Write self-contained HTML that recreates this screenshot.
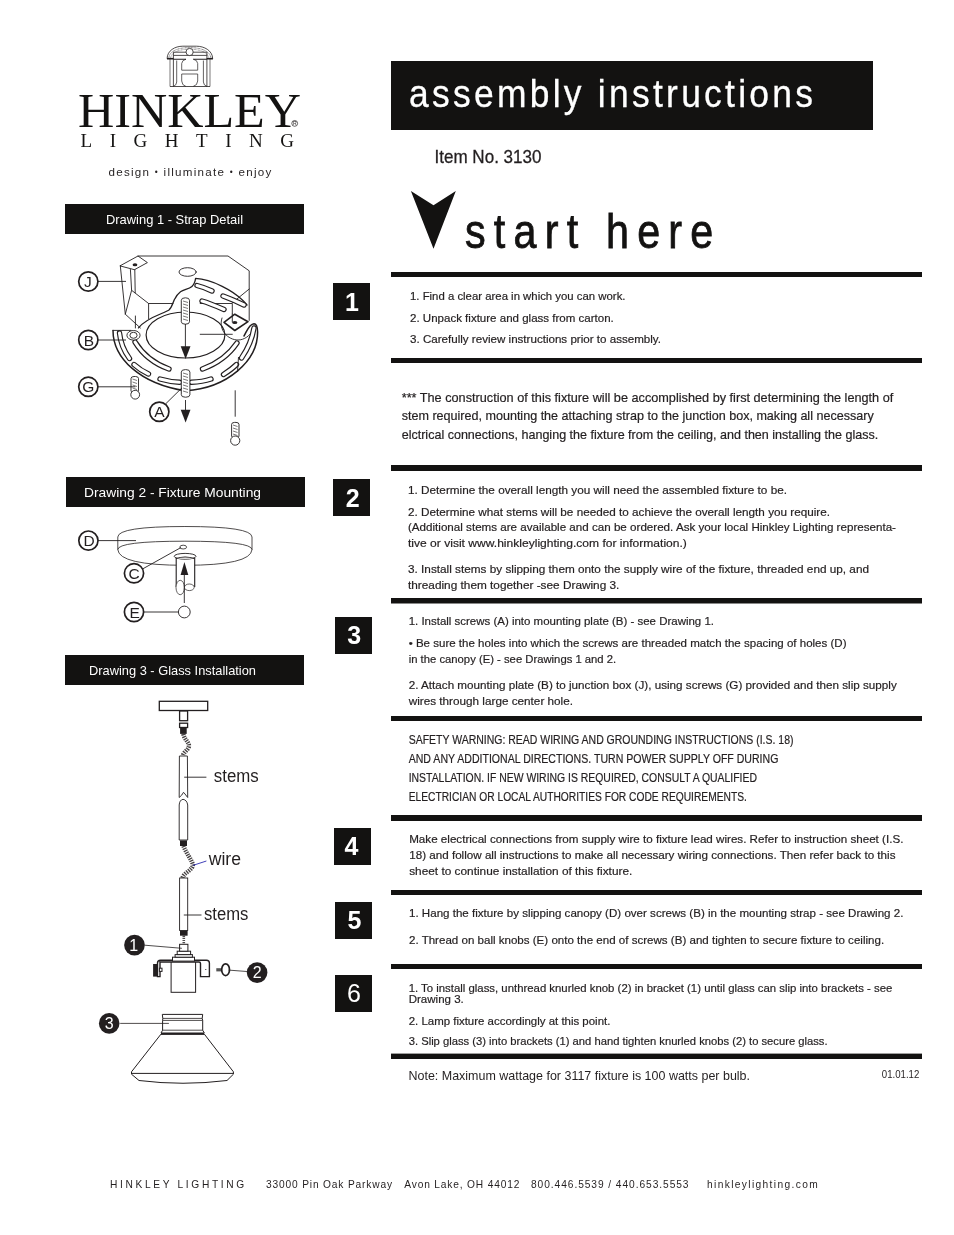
<!DOCTYPE html>
<html><head><meta charset="utf-8"><title>Hinkley Lighting - Assembly Instructions</title>
<style>
html,body{margin:0;padding:0;background:#fff;}
body{width:954px;height:1235px;overflow:hidden;position:relative;font-family:"Liberation Sans", sans-serif;}
svg{position:absolute;left:0;top:0;display:block;will-change:transform;}
text{font-family:"Liberation Sans", sans-serif;}
</style></head><body>
<svg width="954" height="1235" viewBox="0 0 954 1235">
<rect x="391" y="61" width="482" height="69" fill="#131211"/>
<g transform="translate(409 107) scale(0.92 1)"><text x="0" y="0" font-size="38.5" fill="#fff" stroke="#fff" stroke-width="0.3" textLength="439.13" lengthAdjust="spacing">assembly instructions</text></g>
<text x="434.5" y="163" font-size="19" fill="#231f20" stroke="#231f20" stroke-width="0.3" textLength="107.0" lengthAdjust="spacingAndGlyphs" >Item No. 3130</text>
<path d="M410.9 190.9 L433.5 205.2 L455.8 190.9 L433.5 248.8 Z" fill="#131211"/>
<g transform="translate(465 248.2) scale(0.86 1)"><text x="0" y="0" font-size="48" fill="#131211" stroke="#131211" stroke-width="0.8" textLength="288.72" lengthAdjust="spacing">start here</text></g>
<rect x="65" y="204" width="239" height="30" fill="#131211"/>
<text x="106" y="224" font-size="13" fill="#fff" textLength="137" lengthAdjust="spacingAndGlyphs" >Drawing 1 - Strap Detail</text>
<rect x="66" y="477" width="239" height="30" fill="#131211"/>
<text x="84" y="497" font-size="13" fill="#fff" textLength="177" lengthAdjust="spacingAndGlyphs" >Drawing 2 - Fixture Mounting</text>
<rect x="65" y="655" width="239" height="30" fill="#131211"/>
<text x="89" y="675" font-size="13" fill="#fff" textLength="167" lengthAdjust="spacingAndGlyphs" >Drawing 3 - Glass Installation</text>
<rect x="391" y="272" width="531" height="5" fill="#131211"/>
<rect x="391" y="358" width="531" height="5" fill="#131211"/>
<rect x="391" y="465" width="531" height="6" fill="#131211"/>
<rect x="391" y="598" width="531" height="5.5" fill="#131211"/>
<rect x="391" y="716" width="531" height="5" fill="#131211"/>
<rect x="391" y="815" width="531" height="6" fill="#131211"/>
<rect x="391" y="890" width="531" height="5" fill="#131211"/>
<rect x="391" y="964" width="531" height="5" fill="#131211"/>
<rect x="391" y="1053.6" width="531" height="5.4" fill="#131211"/>
<rect x="333" y="283" width="37" height="37" fill="#131211"/>
<text x="345" y="311" font-size="25" fill="#fff" font-weight="bold" >1</text>
<rect x="333" y="479" width="37" height="37" fill="#131211"/>
<text x="345.8" y="506.8" font-size="25" fill="#fff" font-weight="bold" >2</text>
<rect x="335" y="617" width="37" height="37" fill="#131211"/>
<text x="347.3" y="644.3" font-size="25" fill="#fff" font-weight="bold" >3</text>
<rect x="334" y="828" width="37" height="37" fill="#131211"/>
<text x="344.5" y="854.6" font-size="25" fill="#fff" font-weight="bold" >4</text>
<rect x="335" y="902" width="37" height="37" fill="#131211"/>
<text x="347.6" y="929.1" font-size="25" fill="#fff" font-weight="bold" >5</text>
<rect x="335" y="975" width="37" height="37" fill="#131211"/>
<text x="347" y="1002.1" font-size="25" fill="#fff" >6</text>
<text x="410" y="300.1" font-size="11.6" fill="#231f20" stroke="#231f20" stroke-width="0.2" textLength="215.5" lengthAdjust="spacingAndGlyphs" >1. Find a clear area in which you can work.</text>
<text x="410" y="322" font-size="11.6" fill="#231f20" stroke="#231f20" stroke-width="0.2" textLength="203.8" lengthAdjust="spacingAndGlyphs" >2. Unpack fixture and glass from carton.</text>
<text x="410" y="343" font-size="11.6" fill="#231f20" stroke="#231f20" stroke-width="0.2" textLength="251" lengthAdjust="spacingAndGlyphs" >3. Carefully review instructions prior to assembly.</text>
<text x="401.7" y="402.1" font-size="12.4" fill="#231f20" stroke="#231f20" stroke-width="0.2" textLength="491.6" lengthAdjust="spacingAndGlyphs" >*** The construction of this fixture will be accomplished by first determining the length of</text>
<text x="401.7" y="420.2" font-size="12.4" fill="#231f20" stroke="#231f20" stroke-width="0.2" textLength="472.0" lengthAdjust="spacingAndGlyphs" >stem required, mounting the attaching strap to the junction box, making all necessary</text>
<text x="401.7" y="439" font-size="12.4" fill="#231f20" stroke="#231f20" stroke-width="0.2" textLength="476.5" lengthAdjust="spacingAndGlyphs" >elctrical connections, hanging the fixture from the ceiling, and then installing the glass.</text>
<text x="408" y="493.9" font-size="11.6" fill="#231f20" stroke="#231f20" stroke-width="0.2" textLength="379" lengthAdjust="spacingAndGlyphs" >1. Determine the overall length you will need the assembled fixture to be.</text>
<text x="408" y="515.7" font-size="11.6" fill="#231f20" stroke="#231f20" stroke-width="0.2" textLength="422" lengthAdjust="spacingAndGlyphs" >2. Determine what stems will be needed to achieve the overall length you require.</text>
<text x="408" y="530.8" font-size="11.6" fill="#231f20" stroke="#231f20" stroke-width="0.2" textLength="488" lengthAdjust="spacingAndGlyphs" >(Additional stems are available and can be ordered. Ask your local Hinkley Lighting representa-</text>
<text x="408" y="546.8" font-size="11.6" fill="#231f20" stroke="#231f20" stroke-width="0.2" textLength="278.9" lengthAdjust="spacingAndGlyphs" >tive or visit www.hinkleylighting.com for information.)</text>
<text x="408" y="572.8" font-size="11.6" fill="#231f20" stroke="#231f20" stroke-width="0.2" textLength="461" lengthAdjust="spacingAndGlyphs" >3. Install stems by slipping them onto the supply wire of the fixture, threaded end up, and</text>
<text x="408" y="588.7" font-size="11.6" fill="#231f20" stroke="#231f20" stroke-width="0.2" textLength="211.4" lengthAdjust="spacingAndGlyphs" >threading them together -see Drawing 3.</text>
<text x="408.7" y="625.1" font-size="11.6" fill="#231f20" stroke="#231f20" stroke-width="0.2" textLength="305.3" lengthAdjust="spacingAndGlyphs" >1. Install screws (A) into mounting plate (B) - see Drawing 1.</text>
<text x="408.7" y="646.9" font-size="11.6" fill="#231f20" stroke="#231f20" stroke-width="0.2" textLength="437.8" lengthAdjust="spacingAndGlyphs" >• Be sure the holes into which the screws are threaded match the spacing of holes (D)</text>
<text x="408.7" y="662.9" font-size="11.6" fill="#231f20" stroke="#231f20" stroke-width="0.2" textLength="207.5" lengthAdjust="spacingAndGlyphs" >in the canopy (E) - see Drawings 1 and 2.</text>
<text x="408.7" y="688.9" font-size="11.6" fill="#231f20" stroke="#231f20" stroke-width="0.2" textLength="488.1" lengthAdjust="spacingAndGlyphs" >2. Attach mounting plate (B) to junction box (J), using screws (G) provided and then slip supply</text>
<text x="408.7" y="704.8" font-size="11.6" fill="#231f20" stroke="#231f20" stroke-width="0.2" textLength="164.3" lengthAdjust="spacingAndGlyphs" >wires through large center hole.</text>
<text x="408.7" y="744" font-size="12.4" fill="#231f20" stroke="#231f20" stroke-width="0.2" textLength="384.8" lengthAdjust="spacingAndGlyphs" >SAFETY WARNING: READ WIRING AND GROUNDING INSTRUCTIONS (I.S. 18)</text>
<text x="408.7" y="762.7" font-size="12.4" fill="#231f20" stroke="#231f20" stroke-width="0.2" textLength="369.7" lengthAdjust="spacingAndGlyphs" >AND ANY ADDITIONAL DIRECTIONS. TURN POWER SUPPLY OFF DURING</text>
<text x="408.7" y="782" font-size="12.4" fill="#231f20" stroke="#231f20" stroke-width="0.2" textLength="348.3" lengthAdjust="spacingAndGlyphs" >INSTALLATION. IF NEW WIRING IS REQUIRED, CONSULT A QUALIFIED</text>
<text x="408.7" y="800.8" font-size="12.4" fill="#231f20" stroke="#231f20" stroke-width="0.2" textLength="338.2" lengthAdjust="spacingAndGlyphs" >ELECTRICIAN OR LOCAL AUTHORITIES FOR CODE REQUIREMENTS.</text>
<text x="409.2" y="843.4" font-size="11.6" fill="#231f20" stroke="#231f20" stroke-width="0.2" textLength="494.2" lengthAdjust="spacingAndGlyphs" >Make electrical connections from supply wire to fixture lead wires. Refer to instruction sheet (I.S.</text>
<text x="409.2" y="858.5" font-size="11.6" fill="#231f20" stroke="#231f20" stroke-width="0.2" textLength="486.3" lengthAdjust="spacingAndGlyphs" >18) and follow all instructions to make all necessary wiring connections. Then refer back to this</text>
<text x="409.2" y="874.5" font-size="11.6" fill="#231f20" stroke="#231f20" stroke-width="0.2" textLength="223.1" lengthAdjust="spacingAndGlyphs" >sheet to continue installation of this fixture.</text>
<text x="409" y="916.8" font-size="11.6" fill="#231f20" stroke="#231f20" stroke-width="0.2" textLength="494.4" lengthAdjust="spacingAndGlyphs" >1. Hang the fixture by slipping canopy (D) over screws (B) in the mounting strap - see Drawing 2.</text>
<text x="409" y="943.6" font-size="11.6" fill="#231f20" stroke="#231f20" stroke-width="0.2" textLength="475.1" lengthAdjust="spacingAndGlyphs" >2. Thread on ball knobs (E) onto the end of screws (B) and tighten to secure fixture to ceiling.</text>
<text x="408.7" y="991.8" font-size="11.6" fill="#231f20" stroke="#231f20" stroke-width="0.2" textLength="483.7" lengthAdjust="spacingAndGlyphs" >1. To install glass, unthread knurled knob (2) in bracket (1) until glass can slip into brackets - see</text>
<text x="408.7" y="1002.7" font-size="11.6" fill="#231f20" stroke="#231f20" stroke-width="0.2" textLength="55.1" lengthAdjust="spacingAndGlyphs" >Drawing 3.</text>
<text x="408.7" y="1025" font-size="11.6" fill="#231f20" stroke="#231f20" stroke-width="0.2" textLength="201.7" lengthAdjust="spacingAndGlyphs" >2. Lamp fixture accordingly at this point.</text>
<text x="408.7" y="1045.4" font-size="11.6" fill="#231f20" stroke="#231f20" stroke-width="0.2" textLength="418.9" lengthAdjust="spacingAndGlyphs" >3. Slip glass (3) into brackets (1) and hand tighten knurled knobs (2) to secure glass.</text>
<text x="408.5" y="1079.8" font-size="12.4" fill="#231f20" textLength="341.5" lengthAdjust="spacingAndGlyphs" >Note: Maximum wattage for 3117 fixture is 100 watts per bulb.</text>
<text x="881.8" y="1077.6" font-size="10.2" fill="#231f20" textLength="37.5" lengthAdjust="spacingAndGlyphs" >01.01.12</text>
<text x="110" y="1187.9" font-size="10.2" fill="#231f20" textLength="134.3" lengthAdjust="spacing" >HINKLEY LIGHTING</text>
<text x="266" y="1187.9" font-size="10.2" fill="#231f20" textLength="126" lengthAdjust="spacing" >33000 Pin Oak Parkway</text>
<text x="404.3" y="1187.9" font-size="10.2" fill="#231f20" textLength="115.0" lengthAdjust="spacing" >Avon Lake, OH 44012</text>
<text x="531" y="1187.9" font-size="10.2" fill="#231f20" textLength="157.5" lengthAdjust="spacing" >800.446.5539 / 440.653.5553</text>
<text x="707" y="1187.9" font-size="10.2" fill="#231f20" textLength="110.7" lengthAdjust="spacing" >hinkleylighting.com</text>
<text x="78" y="126.5" font-size="48" fill="#131211" style='font-family:"Liberation Serif", serif' textLength="223" lengthAdjust="spacingAndGlyphs" >HINKLEY</text>
<text x="80.6" y="146.6" font-size="19" fill="#131211" style='font-family:"Liberation Serif", serif' textLength="213.4" lengthAdjust="spacing" >LIGHTING</text>
<text x="108.5" y="175.75" font-size="11.6" fill="#231f20" textLength="162.8" lengthAdjust="spacing">design <tspan font-size="8.5" dy="-0.6">•</tspan><tspan dy="0.6"> illuminate </tspan><tspan font-size="8.5" dy="-0.6">•</tspan><tspan dy="0.6"> enjoy</tspan></text>
<!-- ===== logo emblem ===== -->
<g fill="none" stroke="#231f20">
  <path d="M167.1 58.6 C167.3 50.5 175 46.2 182.8 46.2 L196.4 46.2 C204.2 46.2 212.4 50.5 212.7 58.6" stroke-width="0.8"/>
  <path d="M168.8 58.2 C169.2 51.6 177 47.6 189.6 47.6 C202.2 47.6 210.2 51.6 211 58.2" stroke-width="0.6" stroke-dasharray="0.9 0.5"/>
  <path d="M170.6 58 C171.2 53 178 49.2 189.6 49.2 C201.2 49.2 208 53 208.7 58" stroke-width="0.5" stroke-dasharray="0.8 0.6"/>
  <line x1="173.4" y1="52.2" x2="206.9" y2="52.2" stroke-width="0.8"/>
  <line x1="173.4" y1="55.4" x2="206.9" y2="55.4" stroke-width="0.8"/>
  <circle cx="189.6" cy="52" r="3.6" fill="#fff" stroke-width="0.8"/>
  <line x1="170" y1="59" x2="170" y2="86.5" stroke-width="0.6"/>
  <line x1="173.4" y1="52.2" x2="173.4" y2="86.5" stroke-width="0.8"/>
  <line x1="206.9" y1="52.2" x2="206.9" y2="86.5" stroke-width="0.8"/>
  <line x1="210" y1="59" x2="210" y2="86.5" stroke-width="0.6"/>
  <line x1="170" y1="86.5" x2="210" y2="86.5" stroke-width="0.8"/>
  <path d="M176.7 60.5 L176.7 82 Q176.5 85.5 173.4 86.3 M181.7 63.5 Q182 60 186 59.2 M181.7 63.5 L181.7 70.2 L197.7 70.2 L197.7 63.5 Q197.4 60 193.3 59.2 M203.4 60.5 L203.4 82 Q203.6 85.5 206.9 86.3 M181.7 74 L197.7 74 M181.7 74 L181.7 81 Q182 85.5 185.8 86.3 M197.7 74 L197.7 81 Q197.4 85.5 193.3 86.3" stroke-width="0.7"/>
</g>
<rect x="167" y="57.9" width="6.6" height="1.6" fill="#231f20"/>
<rect x="206.7" y="57.9" width="6.2" height="1.6" fill="#231f20"/>
<path d="M173.4 59.2 L186 59.2 M193.3 59.2 L206.9 59.2" stroke="#231f20" stroke-width="1.1"/>
<circle cx="294.7" cy="123.4" r="2.9" fill="none" stroke="#231f20" stroke-width="0.7"/>
<text x="294.8" y="125.3" font-size="5" fill="#231f20" text-anchor="middle" style="font-family:'Liberation Sans', sans-serif">R</text>

<!-- ===== drawing 1 : strap detail ===== -->
<g fill="none" stroke="#231f20" stroke-width="0.9" stroke-linecap="round" stroke-linejoin="round">
  <!-- junction box -->
  <path d="M138 256 L228 256 L249.2 270.8 L249.2 320.4"/>
  <path d="M120.3 265.7 L138 256 L147.4 262.6 L134.8 269.5 Z"/>
  <path d="M134.8 269.5 L135.2 292.8"/>
  <path d="M120.3 265.7 L125.3 314.2 L140.4 328"/>
  <path d="M130.4 269.5 L131.6 290.3 L125.3 314.2"/>
  <path d="M131.6 290.3 L148.6 303.5 L173 303.5"/>
  <path d="M148.6 303.5 L148.6 318.6"/>
  <path d="M135.4 316 L135.4 328"/>
  <path d="M232.3 302.8 L249.2 289"/>
  <path d="M200.2 303.5 L232.3 303.5 L232.3 314"/>
  <path d="M200.2 334.3 L232.3 334.3"/>
  <ellipse cx="187.6" cy="272" rx="8.6" ry="4.3"/>
  <!-- strap outer front edge -->
  <path d="M113 330.4 C113 358 140 384 185.5 390.8 C228 388 258 360 257.6 332 C257.5 326 256 323.7 254 323.7 C249 324 247 331 244 336" stroke-width="1.5"/>
  <path d="M113 330.4 L131 330.4"/>
  <!-- strap upper back edge with notch -->
  <path d="M138.5 327.9 C146 318 162 314 168.7 310.3 C174 306 172 298 180.5 291.8 C186 288 194 290 195.6 278.4 C210 279 235 290 247 305" stroke-width="1.3"/>
  <!-- center hole -->
  <ellipse cx="185.5" cy="335" rx="39.4" ry="23" stroke-width="1.2"/>
  <!-- diamond bracket -->
  <path d="M224 322.3 L234.8 314.2 L248 321.7 L234.8 330.5 Z" stroke-width="1.6"/>
  <path d="M222 318 C218 330 228 340 238 340 C244 340 250 336 253 330"/>
  <path d="M232.3 314 L232.3 322"/>
</g>
<ellipse cx="234.8" cy="322.6" rx="2.6" ry="1.5" fill="#231f20"/>
<ellipse cx="135" cy="264.8" rx="2.4" ry="1.5" fill="#231f20"/>
<!-- slots -->
<g fill="none" stroke="#231f20" stroke-width="5.4" stroke-linecap="round">
  <path d="M119.5 333 C120.5 343 124 351 129.5 358.5"/>
  <path d="M134 364.5 C139 369 144 372 148.5 374"/>
  <path d="M160 379 C167 381 174 382 179.5 382.3"/>
  <path d="M191.5 382.3 C198 382 205 381 211 379"/>
  <path d="M223.5 374.5 C229 371 233 368 236.5 364.5"/>
  <path d="M241.5 358 C247 350 252 340 254 328"/>
  <path d="M135 342 C143 355 155 364 169 369"/>
  <path d="M202.5 369 C216 364 229 355 237 343"/>
  <path d="M197 285.5 C203 287 208 289 212 291"/>
  <path d="M223 296 C231 299 238 302 244 305"/>
  <path d="M202 301 C209 303 216 306 224 309.5"/>
</g>
<g fill="none" stroke="#fff" stroke-width="3.1" stroke-linecap="round">
  <path d="M119.5 333 C120.5 343 124 351 129.5 358.5"/>
  <path d="M134 364.5 C139 369 144 372 148.5 374"/>
  <path d="M160 379 C167 381 174 382 179.5 382.3"/>
  <path d="M191.5 382.3 C198 382 205 381 211 379"/>
  <path d="M223.5 374.5 C229 371 233 368 236.5 364.5"/>
  <path d="M241.5 358 C247 350 252 340 254 328"/>
  <path d="M135 342 C143 355 155 364 169 369"/>
  <path d="M202.5 369 C216 364 229 355 237 343"/>
  <path d="M197 285.5 C203 287 208 289 212 291"/>
  <path d="M223 296 C231 299 238 302 244 305"/>
  <path d="M202 301 C209 303 216 306 224 309.5"/>
</g>
<g fill="#fff" stroke="#231f20" stroke-width="0.9">
  <!-- B screw head -->
  <ellipse cx="133.5" cy="335.3" rx="6.6" ry="4.8"/>
  <ellipse cx="133.5" cy="335.3" rx="3.6" ry="3"/>
  <!-- screw A top -->
  <rect x="181.3" y="297.8" width="8.2" height="26.4" rx="4" ry="2.5"/>
  <!-- screw A bottom -->
  <rect x="181.3" y="369.6" width="8.6" height="27.6" rx="4" ry="2.5"/>
  <!-- G screw -->
  <rect x="131" y="376.5" width="7.5" height="16.3" rx="3" ry="2"/>
  <circle cx="135.2" cy="394.7" r="4.4"/>
  <!-- right screw -->
  <rect x="231.6" y="422.4" width="7.4" height="15.6" rx="3" ry="2"/>
  <circle cx="235.2" cy="440.6" r="4.6"/>
</g>
<g fill="none" stroke="#231f20" stroke-width="0.6">
  <path d="M183 301 l5 1.5 M183 304 l5 1.5 M183 307 l5 1.5 M183 310 l5 1.5 M183 313 l5 1.5 M183 316 l5 1.5 M183 319 l5 1.5"/>
  <path d="M183 373 l5 1.5 M183 376 l5 1.5 M183 379 l5 1.5 M183 382 l5 1.5 M183 385 l5 1.5 M183 388 l5 1.5 M183 391 l5 1.5"/>
  <path d="M132.5 379 l4.5 1.5 M132.5 382 l4.5 1.5 M132.5 385 l4.5 1.5 M132.5 388 l4.5 1.5"/>
  <path d="M233 425 l4.5 1.5 M233 428 l4.5 1.5 M233 431 l4.5 1.5 M233 434 l4.5 1.5"/>
</g>
<g stroke="#231f20" stroke-width="0.9" fill="none">
  <line x1="185.4" y1="324" x2="185.4" y2="347"/>
  <line x1="185.5" y1="400" x2="185.5" y2="410"/>
  <line x1="235.2" y1="390.3" x2="235.2" y2="416.7"/>
  <line x1="238.5" y1="357" x2="237.5" y2="372"/>
</g>
<path d="M180.7 346.3 L190.5 346.3 L185.6 358.9 Z" fill="#231f20"/>
<path d="M180.7 409.8 L190.5 409.8 L185.6 422.4 Z" fill="#231f20"/>
<!-- labels drawing 1 -->
<g stroke="#231f20" stroke-width="0.9">
  <line x1="97.5" y1="281.4" x2="126" y2="281.4"/>
  <line x1="97.5" y1="340" x2="126" y2="340"/>
  <line x1="97.5" y1="386.8" x2="135.4" y2="386.8"/>
  <line x1="165.5" y1="404" x2="182" y2="387.8"/>
</g>
<g fill="#fff" stroke="#231f20" stroke-width="1.7">
  <circle cx="88.3" cy="281.5" r="9.6"/>
  <circle cx="88.3" cy="340" r="9.6"/>
  <circle cx="88.3" cy="386.8" r="9.6"/>
  <circle cx="159.3" cy="411.75" r="9.6"/>
</g>
<g fill="#231f20" font-size="15.5" text-anchor="middle">
  <text x="87.8" y="286.5">J</text>
  <text x="88.8" y="345.5">B</text>
  <text x="88.3" y="392.3">G</text>
  <text x="159.3" y="417.2">A</text>
</g>

<!-- ===== drawing 2 : fixture mounting ===== -->
<g fill="none" stroke="#231f20" stroke-width="0.8">
  <path d="M117.8 537 Q118 526.5 184.9 526.5 Q251.8 526.5 252 537"/>
  <line x1="117.8" y1="537" x2="117.8" y2="549.6"/>
  <line x1="252" y1="537" x2="252" y2="549.6"/>
  <path d="M117.8 549.6 Q118 541.2 184.9 541.2 Q251.8 541.2 252 549.6"/>
  <path d="M117.8 549.6 Q119 565.3 184.9 565.3 Q250.8 565.3 252 549.6"/>
  <ellipse cx="183.2" cy="547.1" rx="3.4" ry="1.9"/>
</g>
<g fill="#fff" stroke="#231f20" stroke-width="0.9">
  <rect x="176.2" y="557" width="18.5" height="30" stroke="none"/>
  <path d="M176.2 558 L176.2 587 M194.7 558 L194.7 587" stroke-width="1.1"/>
  <ellipse cx="189.3" cy="587.3" rx="4.9" ry="3.3" stroke-width="0.7"/>
  <ellipse cx="180.2" cy="587.5" rx="4.2" ry="7.2" stroke-width="0.7"/>
  <ellipse cx="185.1" cy="556.3" rx="10.9" ry="2.9"/>
  <path d="M176 558.5 Q185 555.5 194.5 558.5" stroke-width="1.1"/>
  <circle cx="184.3" cy="612" r="5.9"/>
</g>
<line x1="184.3" y1="603" x2="184.3" y2="574" stroke="#231f20" stroke-width="0.9"/>
<path d="M180.6 574.9 L188.3 574.9 L184.4 562 Z" fill="#231f20"/>
<g stroke="#231f20" stroke-width="0.9">
  <line x1="97.7" y1="540.6" x2="136" y2="540.6"/>
  <line x1="142.5" y1="569" x2="181" y2="547.5"/>
  <line x1="143.3" y1="612" x2="178.4" y2="612"/>
</g>
<g fill="#fff" stroke="#231f20" stroke-width="1.7">
  <circle cx="88.4" cy="540.6" r="9.6"/>
  <circle cx="134" cy="573.3" r="9.6"/>
  <circle cx="134" cy="612" r="9.6"/>
</g>
<g fill="#231f20" font-size="15.5" text-anchor="middle">
  <text x="89" y="546.1">D</text>
  <text x="134" y="578.8">C</text>
  <text x="134.6" y="617.5">E</text>
</g>

<!-- ===== drawing 3 : glass installation ===== -->
<g fill="#fff" stroke="#231f20" stroke-width="1.3">
  <rect x="159.3" y="701.3" width="48.4" height="9.2"/>
  <rect x="179.6" y="711" width="8" height="9.7"/>
  <rect x="179.6" y="723.2" width="8" height="4.3"/>
</g>
<g fill="none" stroke="#231f20" stroke-width="4.4" stroke-dasharray="1.3 1" opacity="0.85">
  <path d="M183.4 734 C184 739 189 742 189 745.7 C189 750 183 752 182.9 756"/>
  <path d="M183.5 846 C186 853 192 860 192.9 864.9 C193 870 183 873 182.6 878"/>
</g>
<path d="M183.8 935.7 L183.8 944" fill="none" stroke="#231f20" stroke-width="2.6" stroke-dasharray="1.2 0.9" opacity="0.8"/>
<g fill="#231f20">
  <rect x="180.1" y="727.7" width="6.6" height="6.2"/>
  <rect x="180" y="840.4" width="7" height="5.6"/>
  <rect x="180" y="930.5" width="7.6" height="5.2"/>
</g>
<g fill="#fff" stroke="#231f20" stroke-width="0.9">
  <path d="M179.4 756 L187.4 756 L187.7 797.5 L185 794 L183.5 792.3 L181.8 795 L179.2 797.5 Z"/>
  <path d="M179.2 840 L179.2 805 Q179.5 800 183 799.3 Q187 800 187.7 805 L187.7 840 Z"/>
  <rect x="179.6" y="878" width="8.1" height="52.5"/>
</g>
<g stroke="#231f20" stroke-width="0.9">
  <line x1="184.2" y1="777.2" x2="206.4" y2="777.2"/>
  <line x1="183.8" y1="915" x2="201.5" y2="915"/>
</g>
<line x1="192.9" y1="865.4" x2="206.4" y2="861" stroke="#2b2bb0" stroke-width="0.9"/>
<text x="213.8" y="781.8" font-size="17.5" fill="#231f20" textLength="44.9" lengthAdjust="spacingAndGlyphs">stems</text>
<text x="208.7" y="865.3" font-size="17.5" fill="#231f20" textLength="32.3" lengthAdjust="spacingAndGlyphs">wire</text>
<text x="204" y="920.3" font-size="17.5" fill="#231f20" textLength="44.4" lengthAdjust="spacingAndGlyphs">stems</text>
<!-- socket & bracket -->
<g fill="#fff" stroke="#231f20" stroke-width="1">
  <rect x="171.1" y="961.4" width="24.5" height="30.9"/>
  <path d="M157.5 976.6 L157.5 963 Q157.5 960.2 160.5 960.2 L206.5 960.2 Q209.4 960.2 209.4 963 L209.4 976.6 L200.5 976.6 L200.5 963.5 Q200.5 962 199 962 L160 962 L160 976.6 Z" stroke-width="1.4"/>
  <rect x="172.5" y="957.2" width="22" height="3.9"/>
  <rect x="175.1" y="954.6" width="17.3" height="2.6"/>
  <rect x="177.2" y="951.2" width="13.4" height="3.4"/>
  <rect x="179.6" y="944.3" width="8.3" height="6.9"/>
  <rect x="159.4" y="968.2" width="2.6" height="3.2"/>
</g>
<rect x="153.1" y="964" width="4.2" height="12.6" fill="#231f20"/>
<rect x="216.3" y="968.2" width="6" height="3.2" fill="#555"/>
<ellipse cx="225.6" cy="969.7" rx="3.9" ry="5.9" fill="#fff" stroke="#231f20" stroke-width="1.7"/>
<circle cx="205.8" cy="969.5" r="0.6" fill="#231f20"/>
<g stroke="#231f20" stroke-width="0.8">
  <line x1="144.7" y1="945.2" x2="181.9" y2="948.3"/>
  <line x1="228.6" y1="970.1" x2="247" y2="971.5"/>
  <line x1="120.2" y1="1023.4" x2="168.9" y2="1023.4"/>
</g>
<!-- glass -->
<g fill="none" stroke="#231f20" stroke-width="1">
  <path d="M162.3 1014.4 L202.7 1014.4 L202.2 1018.4 L202.7 1020.4 L202.7 1030.2 L204.3 1033 M162.3 1014.4 L162.8 1018.4 L162.6 1020.4 L162.6 1030.2 L161 1033"/>
  <path d="M162.8 1018.4 L202.2 1018.4 M162.6 1020.4 L202.7 1020.4 M162.6 1030.2 L202.7 1030.2" stroke-width="0.8"/>
  <path d="M161 1034.1 L131.5 1071.8 L131.5 1074.2 L139 1080.5 Q183 1086 227 1080.5 L233.4 1074.2 L233.4 1071.8 L204.3 1034.1"/>
  <line x1="131.5" y1="1073.4" x2="233.4" y2="1073.4"/>
</g>
<rect x="161" y="1032.5" width="43.3" height="2.4" fill="#231f20"/>
<g fill="#231f20">
  <circle cx="134.5" cy="945.1" r="10.35"/>
  <circle cx="257.1" cy="972.6" r="10.3"/>
  <circle cx="109.2" cy="1023.4" r="10.3"/>
</g>
<g fill="#fff" font-size="16" text-anchor="middle">
  <text x="133.8" y="951">1</text>
  <text x="257.1" y="978.4">2</text>
  <text x="109.2" y="1029.2">3</text>
</g>

</svg>
</body></html>
